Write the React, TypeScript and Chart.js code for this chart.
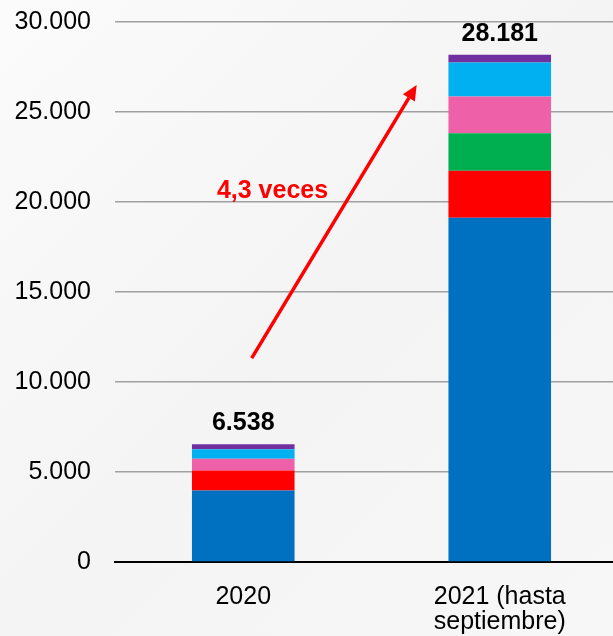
import React, { useEffect, useRef } from "react";
import { Chart, registerables } from "chart.js";

Chart.register(...registerables);

const categories: (string | string[])[] = ["2020", ["2021 (hasta", "septiembre)"]];
const seriesBlue = [3970, 19120];
const seriesRed = [1110, 2620];
const seriesGreen = [0, 2080];
const seriesPink = [650, 2040];
const seriesLightBlue = [540, 1890];
const seriesPurple = [268, 431];
const totals = [6538, 28181];
const totalLabels = ["6.538", "28.181"];
const yTicks = [0, 5000, 10000, 15000, 20000, 25000, 30000];
const arrowText = "4,3 veces";
// arrow annotation in data units: [categoryIndex, value]
const arrowStart = [0.033, 11330];
const arrowEnd = [0.676, 26500];
const arrowLabelPos = [0.114, 20600];

const FONT = "'Liberation Sans', Arial, sans-serif";

const fmt = (v: number) => v.toLocaleString("de-DE");

const overlayPlugin = {
  id: "overlay",
  beforeDraw(chart: any) {
    const { ctx, width, height } = chart;
    ctx.save();
    const g = ctx.createLinearGradient(0, 0, width, height);
    g.addColorStop(0, "#fbfbfb");
    g.addColorStop(0.5, "#f4f4f4");
    g.addColorStop(1, "#f7f7f7");
    ctx.fillStyle = g;
    ctx.fillRect(0, 0, width, height);
    ctx.restore();
  },
  afterDatasetsDraw(chart: any) {
    const { ctx } = chart;
    const xs = chart.scales.x;
    const ys = chart.scales.y;
    ctx.save();
    // totals
    ctx.fillStyle = "#000";
    ctx.font = `bold 25px ${FONT}`;
    ctx.textAlign = "center";
    ctx.textBaseline = "alphabetic";
    totals.forEach((t, i) => {
      const x = xs.getPixelForValue(i);
      const y = ys.getPixelForValue(t);
      ctx.fillText(totalLabels[i], x, y - 14);
    });
    // arrow
    const x1 = xs.getPixelForValue(arrowStart[0]);
    const y1 = ys.getPixelForValue(arrowStart[1]);
    const x2 = xs.getPixelForValue(arrowEnd[0]);
    const y2 = ys.getPixelForValue(arrowEnd[1]);
    const ang = Math.atan2(y2 - y1, x2 - x1);
    const headLen = 15;
    const headW = 7;
    const bx = x2 - headLen * Math.cos(ang);
    const by = y2 - headLen * Math.sin(ang);
    ctx.strokeStyle = "#ff0000";
    ctx.fillStyle = "#ff0000";
    ctx.lineWidth = 3.5;
    ctx.beginPath();
    ctx.moveTo(x1, y1);
    ctx.lineTo(bx, by);
    ctx.stroke();
    ctx.beginPath();
    ctx.moveTo(x2, y2);
    ctx.lineTo(bx + headW * Math.sin(ang), by - headW * Math.cos(ang));
    ctx.lineTo(bx - headW * Math.sin(ang), by + headW * Math.cos(ang));
    ctx.closePath();
    ctx.fill();
    // label
    ctx.font = `bold 25px ${FONT}`;
    ctx.textBaseline = "middle";
    ctx.fillText(
      arrowText,
      xs.getPixelForValue(arrowLabelPos[0]),
      ys.getPixelForValue(arrowLabelPos[1])
    );
    ctx.restore();
  },
};

export default function App() {
  const ref = useRef<HTMLCanvasElement | null>(null);
  useEffect(() => {
    if (!ref.current) return;
    const mk = (label: string, data: number[], color: string) => ({
      label,
      data,
      backgroundColor: color,
      borderWidth: 0,
      categoryPercentage: 1,
      barPercentage: 0.4,
    });
    const chart = new Chart(ref.current, {
      type: "bar",
      data: {
        labels: categories as any,
        datasets: [
          mk("A", seriesBlue, "#0070c0"),
          mk("B", seriesRed, "#ff0000"),
          mk("C", seriesGreen, "#00b050"),
          mk("D", seriesPink, "#ee60a8"),
          mk("E", seriesLightBlue, "#00b0f0"),
          mk("F", seriesPurple, "#7030a0"),
        ],
      },
      options: {
        animation: false,
        responsive: true,
        maintainAspectRatio: false,
        layout: { padding: { top: 22, right: 2, left: 0, bottom: 0 } },
        plugins: {
          legend: { display: false },
          tooltip: { enabled: false },
        },
        scales: {
          x: {
            stacked: true,
            grid: { display: false, drawTicks: false },
            border: { display: true, color: "#000", width: 2 },
            ticks: {
              color: "#000",
              padding: 23,
              maxRotation: 0,
              autoSkip: false,
              font: { family: FONT, size: 25, lineHeight: 1 },
            },
            afterFit: (s: any) => {
              s.height = 74;
            },
          },
          y: {
            stacked: true,
            min: 0,
            max: 30000,
            afterBuildTicks: (s: any) => {
              s.ticks = yTicks.map((v) => ({ value: v }));
            },
            grid: {
              color: "#a0a0a0",
              lineWidth: 1.5,
              drawTicks: true,
              tickLength: 24,
              tickColor: "rgba(0,0,0,0)",
            },
            border: { display: false },
            ticks: {
              color: "#000",
              padding: 0,
              font: { family: FONT, size: 25 },
              callback: (v: any) => fmt(Number(v)),
            },
            afterFit: (s: any) => {
              s.width = 115;
            },
          },
        },
      },
      plugins: [overlayPlugin],
    });
    return () => chart.destroy();
  }, []);
  return (
    <div style={{ position: "fixed", left: 0, top: 0, width: 630, height: 636 }}>
      <canvas ref={ref} />
    </div>
  );
}
